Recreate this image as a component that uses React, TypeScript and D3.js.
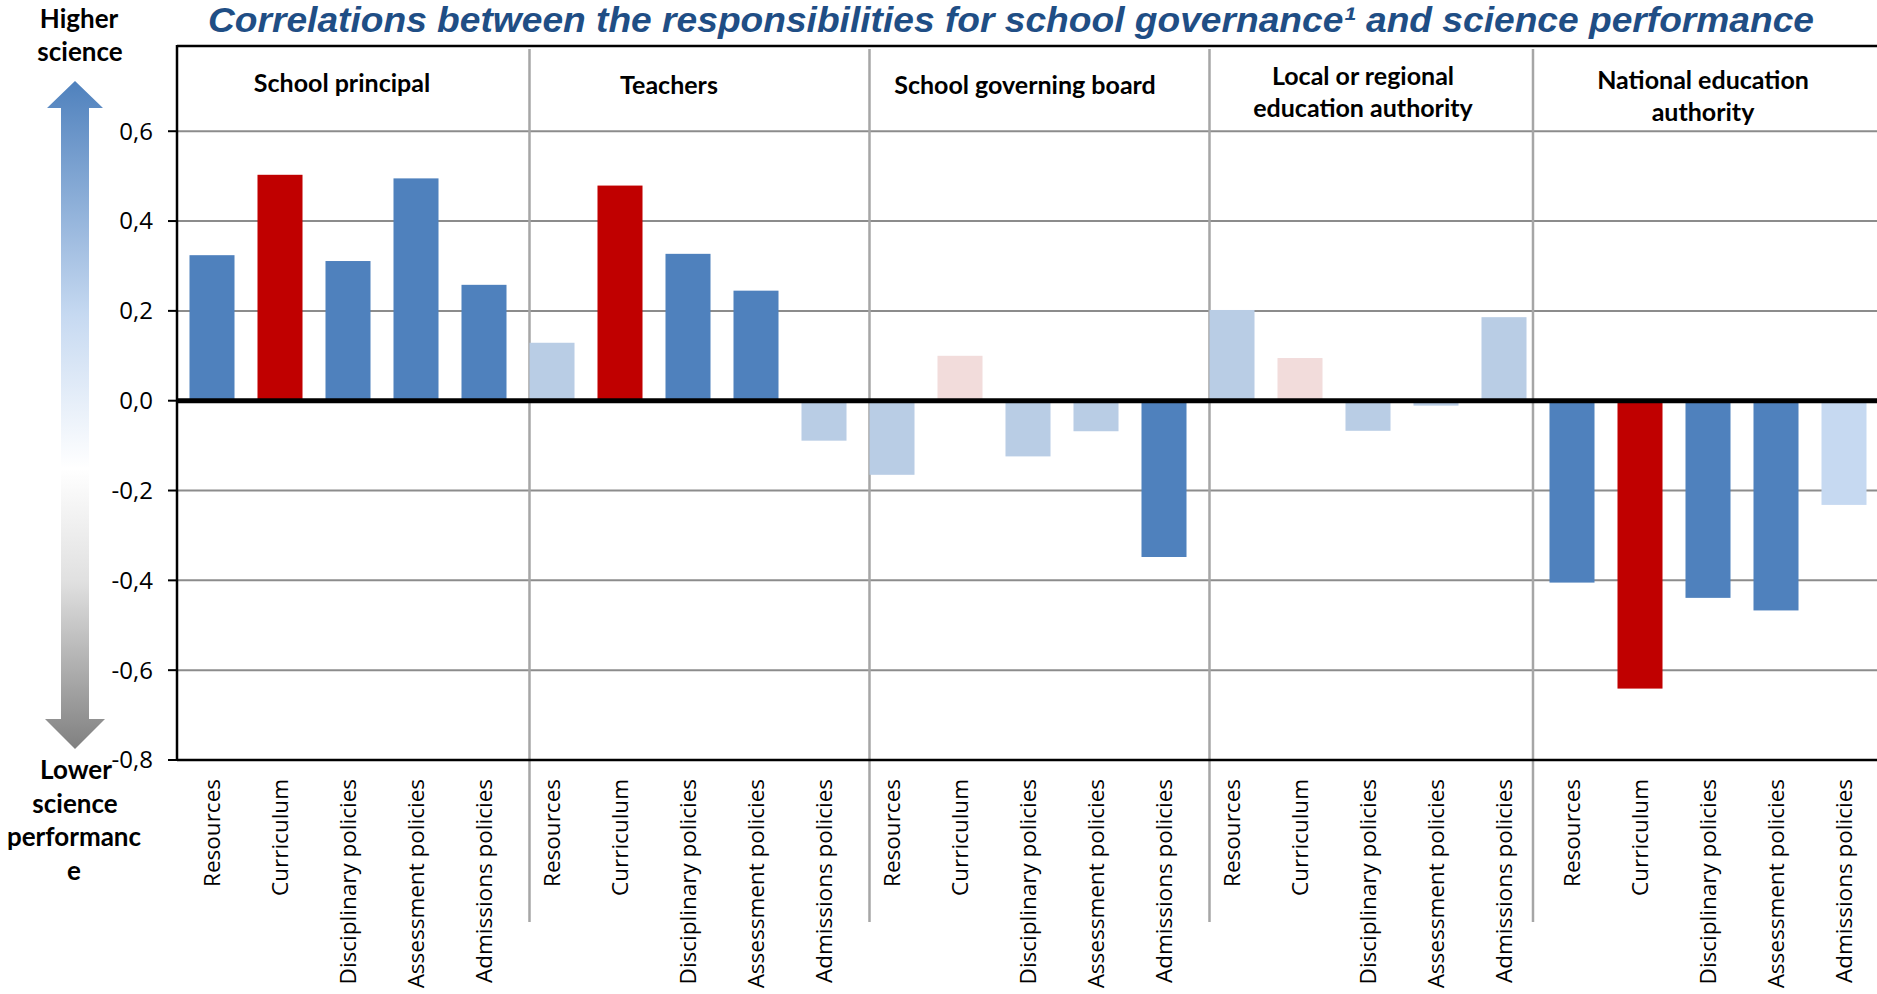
import React from "react";
import * as d3 from "d3";

// ---------- data ----------
const groupHeaders: string[][] = [
  ["School principal"],
  ["Teachers"],
  ["School governing board"],
  ["Local or regional", "education authority"],
  ["National education", "authority"],
];
const policies = [
  "Resources",
  "Curriculum",
  "Disciplinary policies",
  "Assessment policies",
  "Admissions policies",
];
const principalValues = [0.324, 0.503, 0.311, 0.495, 0.258];
const teachersValues = [0.129, 0.479, 0.327, 0.245, -0.089];
const boardValues = [-0.165, 0.1, -0.124, -0.068, -0.348];
const localValues = [0.202, 0.095, -0.067, -0.011, 0.186];
const nationalValues = [-0.405, -0.641, -0.439, -0.467, -0.232];

// shade: sig = significant, key = curriculum highlight, ns = not significant, nsKey = n.s. curriculum, ns2 = n.s. lighter
const principalShade = ["sig", "key", "sig", "sig", "sig"];
const teachersShade = ["ns", "key", "sig", "sig", "ns"];
const boardShade = ["ns", "nsKey", "ns", "ns", "sig"];
const localShade = ["ns", "nsKey", "ns", "ns", "ns"];
const nationalShade = ["sig", "key", "sig", "sig", "ns2"];

const yTicks = [0.6, 0.4, 0.2, 0.0, -0.2, -0.4, -0.6, -0.8];

const title =
  "Correlations between the responsibilities for school governance\u00b9 and science performance";

// ---------- layout ----------
const W = 1877;
const H = 994;
const plotLeft = 177;
const plotRight = 1878;
const plotTop = 46;
const plotBottom = 760;
const headerOffsets = [-6, -19, -3, -5, -5];
const separatorOffsets = [0, 0, 0, -16.5];
const headerFirstBaselines = [92, 94, 94, 85, 89];

const colors: Record<string, string> = {
  sig: "#4F81BD",
  key: "#C00000",
  ns: "#B9CDE5",
  nsKey: "#F2DCDB",
  ns2: "#C6D9F1",
};

const allValues = [principalValues, teachersValues, boardValues, localValues, nationalValues];
const allShades = [principalShade, teachersShade, boardShade, localShade, nationalShade];

const rows = allValues.flatMap((vals, g) =>
  vals.map((v, i) => ({
    key: `${g}-${i}`,
    group: g,
    policy: policies[i],
    value: v,
    shade: allShades[g][i],
  }))
);

export default function App() {
  const x = d3
    .scaleBand<string>()
    .domain(rows.map((r) => r.key))
    .range([plotLeft + 1, plotRight])
    .paddingInner(0.338)
    .paddingOuter(0.169);
  const y = d3.scaleLinear().domain([-0.8, 0.8]).range([plotBottom, 41.4]);
  const bw = x.bandwidth();
  const fmt = (v: number) => d3.format(".1f")(v).replace(".", ",").replace("−", "-");

  const groupCenter = (g: number) => {
    const first = x(`${g}-0`)!;
    const last = x(`${g}-4`)!;
    return (first + last + bw) / 2;
  };

  return (
    <svg
      width={W}
      height={H}
      style={{ position: "absolute", left: 0, top: 0, background: "#fff" }}
    >
      <defs>
        <linearGradient id="arrowGrad" x1="0" y1="0" x2="0" y2="1">
          <stop offset="0" stopColor="#4F81BD" />
          <stop offset="0.35" stopColor="#C6D9F1" />
          <stop offset="0.58" stopColor="#FFFFFF" />
          <stop offset="0.75" stopColor="#E0E0E0" />
          <stop offset="1" stopColor="#808080" />
        </linearGradient>
      </defs>
      <rect x={0} y={0} width={W} height={H} fill="#fff" />

      {/* title */}
      <text
        x={208}
        y={32}
        fontFamily="Liberation Sans, Arial, sans-serif"
        fontWeight="bold"
        fontStyle="italic"
        fontSize={35}
        fill="#1F4E85"
        textLength={1606}
        lengthAdjust="spacingAndGlyphs"
      >
        {title}
      </text>

      {/* gridlines */}
      {yTicks
        .filter((t) => t !== 0 && t !== -0.8)
        .map((t) => (
          <line
            key={`g${t}`}
            x1={plotLeft}
            x2={W}
            y1={y(t)}
            y2={y(t)}
            stroke="#8C8C8C"
            strokeWidth={2}
          />
        ))}

      {/* group separators */}
      {[1, 2, 3, 4].map((g, i) => {
        const sx = x(`${g}-0`)! + separatorOffsets[i];
        return (
          <line
            key={`s${g}`}
            x1={sx}
            x2={sx}
            y1={49}
            y2={922}
            stroke="#A6A6A6"
            strokeWidth={2.5}
          />
        );
      })}

      {/* bars */}
      {rows.map((r) => (
        <rect
          key={r.key}
          x={x(r.key)!}
          width={bw}
          y={r.value >= 0 ? y(r.value) : y(0)}
          height={Math.abs(y(r.value) - y(0))}
          fill={colors[r.shade]}
        />
      ))}

      {/* zero line */}
      <line x1={plotLeft} x2={W} y1={y(0)} y2={y(0)} stroke="#000" strokeWidth={5} />
      {/* bottom axis */}
      <line x1={plotLeft} x2={W} y1={plotBottom} y2={plotBottom} stroke="#000" strokeWidth={2.5} />
      {/* top border */}
      <line x1={plotLeft} x2={W} y1={plotTop} y2={plotTop} stroke="#000" strokeWidth={2.5} />
      {/* left axis */}
      <line x1={plotLeft} x2={plotLeft} y1={plotTop - 1} y2={plotBottom + 1} stroke="#000" strokeWidth={2.5} />

      {/* y ticks */}
      {yTicks.map((t) => (
        <g key={`t${t}`}>
          <line x1={plotLeft - 9} x2={plotLeft} y1={y(t)} y2={y(t)} stroke="#000" strokeWidth={2} />
          <text
            x={153}
            y={y(t)}
            dy="0.35em"
            textAnchor="end"
            fontFamily="Open Sans, sans-serif"
            fontSize={24}
            fill="#000"
          >
            {fmt(t)}
          </text>
        </g>
      ))}

      {/* group headers */}
      {groupHeaders.map((lines, g) => (
        <text
          key={`h${g}`}
          x={groupCenter(g) + headerOffsets[g]}
          y={headerFirstBaselines[g]}
          textAnchor="middle"
          fontFamily="Lato, sans-serif"
          fontWeight="bold"
          fontSize={25}
          fill="#000"
        >
          {lines.map((ln, k) => (
            <tspan key={k} x={groupCenter(g) + headerOffsets[g]} dy={k === 0 ? 0 : 32}>
              {ln}
            </tspan>
          ))}
        </text>
      ))}

      {/* category labels */}
      {rows.map((r) => (
        <text
          key={`l${r.key}`}
          transform={`translate(${x(r.key)! + bw / 2},${plotBottom + 19}) rotate(-90)`}
          dy="0.36em"
          textAnchor="end"
          fontFamily="Open Sans, sans-serif"
          fontSize={22.5}
          fill="#000"
        >
          {r.policy}
        </text>
      ))}

      {/* side arrow */}
      {(() => {
        const cx = 75;
        const sh = 14;
        const hh = 28;
        const top = 81;
        const topBase = 108;
        const botBase = 719;
        const bot = 749;
        const pts = [
          [cx, top],
          [cx + hh, topBase],
          [cx + sh, topBase],
          [cx + sh, botBase],
          [cx + hh + 2, botBase],
          [cx, bot],
          [cx - hh - 2, botBase],
          [cx - sh, botBase],
          [cx - sh, topBase],
          [cx - hh, topBase],
        ];
        return <path d={d3.line()(pts as [number, number][]) + "Z"} fill="url(#arrowGrad)" />;
      })()}

      <text
        textAnchor="middle"
        fontFamily="Lato, sans-serif"
        fontWeight="bold"
        fontSize={26}
        fill="#000"
      >
        <tspan x={79} y={28}>Higher</tspan>
        <tspan x={80} y={61}>science</tspan>
      </text>
      <text
        textAnchor="middle"
        fontFamily="Lato, sans-serif"
        fontWeight="bold"
        fontSize={26}
        fill="#000"
      >
        <tspan x={76} y={779}>Lower</tspan>
        <tspan x={75} y={813}>science</tspan>
        <tspan x={74} y={846}>performanc</tspan>
        <tspan x={74} y={880}>e</tspan>
      </text>
    </svg>
  );
}
